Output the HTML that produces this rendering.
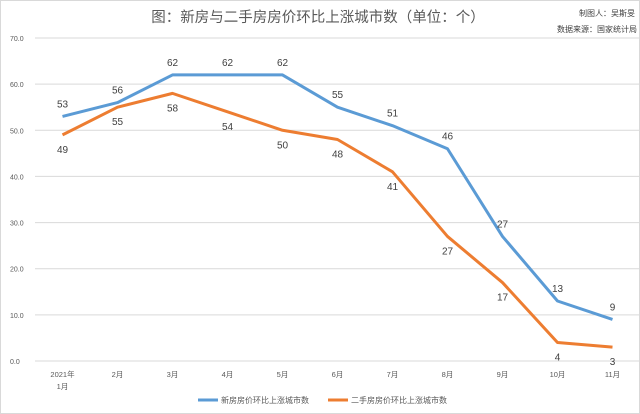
<!DOCTYPE html>
<html><head><meta charset="utf-8"><style>
html,body{margin:0;padding:0;background:#fff;}
svg{display:block;font-family:"Liberation Sans","Noto Sans CJK SC",sans-serif;}
</style></head><body>
<svg id="c" width="640" height="414">
<rect x="0.5" y="0.5" width="639" height="413" fill="#fff" stroke="#d9d9d9"/>
<text x="318" y="22" text-anchor="middle" font-size="14.5" fill="#595959">图：新房与二手房房价环比上涨城市数（单位：个）</text>
<text x="607" y="16" text-anchor="middle" font-size="8" fill="#404040">制图人：吴斯旻</text>
<text x="597" y="32" text-anchor="middle" font-size="8" fill="#404040">数据来源：国家统计局</text>
<g id="grid"></g><g id="xl"></g><g id="lines"></g>
<g>
<line x1="198" y1="400" x2="218" y2="400" stroke="#5b9bd5" stroke-width="3"/>
<text x="221" y="403" font-size="8" fill="#595959">新房房价环比上涨城市数</text>
<line x1="328" y1="400" x2="348" y2="400" stroke="#ed7d31" stroke-width="3"/>
<text x="351" y="403" font-size="8" fill="#595959">二手房房价环比上涨城市数</text>
</g>
</svg>
<script>
const categories=["2021年|1月","2月","3月","4月","5月","6月","7月","8月","9月","10月","11月"];
const newHome=[53,56,62,62,62,55,51,46,27,13,9];
const secondHome=[49,55,58,54,50,48,41,27,17,4,3];
const yTicks=[0,10,20,30,40,50,60,70];
const NS="http://www.w3.org/2000/svg";
const x0=35,x1=640,yb=361,yt=38,ymax=70;
const step=(x1-x0)/categories.length;
const xs=i=>x0+step*(i+0.5);
const ys=v=>yb-(v/ymax)*(yb-yt);
function mk(t,a,p){const e=document.createElementNS(NS,t);for(const k in a)e.setAttribute(k,a[k]);p.appendChild(e);return e;}
const grid=document.getElementById('grid');
yTicks.forEach(v=>{
 const l=mk('line',{x1:x0,x2:x1,y1:ys(v),y2:ys(v),stroke:'#d9d9d9','stroke-width':1},grid);
 
 
 const t=mk('text',{x:10,y:ys(v)+3,'font-size':7,fill:'#595959'},grid);t.textContent=v.toFixed(1);
 
 
});
const xl=document.getElementById('xl');
categories.forEach((c,i)=>{
 c.split('|').forEach((s,j)=>{
  const t=mk('text',{x:xs(i),y:377+j*12,'text-anchor':'middle','font-size':7.5,fill:'#595959'},xl);t.textContent=s;
  
  
 });
});
const lines=document.getElementById('lines');
function series(d,col,name,above){
 const p=mk('polyline',{points:d.map((v,i)=>xs(i)+','+ys(v)).join(' '),fill:'none',stroke:col,'stroke-width':3,'stroke-linejoin':'round'},lines);
 
 
 d.forEach((v,i)=>{
  const t=mk('text',{x:xs(i),y:above?ys(v)-9:ys(v)+18,'text-anchor':'middle','font-size':10,fill:'#404040'},lines);t.textContent=v;
  
  
 });
}
series(newHome,'#5b9bd5','new-home-line',true);
series(secondHome,'#ed7d31','second-home-line',false);
</script>
</body></html>
